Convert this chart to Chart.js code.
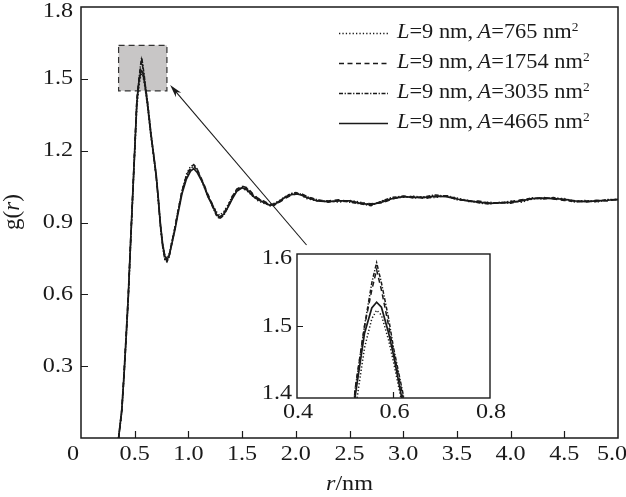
<!DOCTYPE html>
<html>
<head>
<meta charset="utf-8">
<script src="https://cdn.jsdelivr.net/npm/chart.js@4.4.0/dist/chart.umd.min.js"></script>
<style>
  html, body { margin: 0; padding: 0; background: #fff; }
  #wrap { position: relative; width: 626px; height: 497px; }
  #main { position: absolute; left: 0; top: 0; }
  #inset { position: absolute; left: 250px; top: 240px; }
</style>
</head>
<body>
<div id="wrap">
  <canvas id="main" width="626" height="497"></canvas>
  <canvas id="inset" width="260" height="190"></canvas>
</div>
<script>
/* ============================
   g(r) curves ‚Äî data
============================ */
const rVals = [0.35,0.38,0.40,0.42,0.44,0.46,0.48,0.50,0.52,0.54,
  0.555,0.565,0.575,0.59,0.60,0.62,0.65,0.68,0.70,0.72,
  0.74,0.76,0.78,0.80,0.82,0.84,0.875,0.90,0.94,0.98,
  1.02,1.05,1.08,1.11,1.14,1.18,1.23,1.26,1.29,1.33,
  1.37,1.41,1.45,1.50,1.55,1.60,1.65,1.70,1.76,1.80,
  1.85,1.90,1.95,2.00,2.05,2.10,2.20,2.30,2.40,2.50,
  2.60,2.70,2.80,2.90,3.00,3.10,3.20,3.30,3.40,3.50,
  3.60,3.70,3.80,3.90,4.00,4.10,4.20,4.30,4.40,4.50,
  4.60,4.70,4.80,4.90,5.00];

const g765 = [0.00,0.11,0.26,0.42,0.58,0.79,0.99,1.19,1.38,1.47,
  1.51,1.522,1.515,1.48,1.45,1.385,1.265,1.16,1.095,0.995,
  0.89,0.81,0.765,0.75,0.765,0.81,0.88,0.94,1.03,1.10,
  1.135,1.14,1.125,1.09,1.055,1.01,0.97,0.945,0.93,0.945,
  0.975,1.01,1.035,1.045,1.03,1.01,0.99,0.98,0.975,0.98,
  0.992,1.008,1.02,1.024,1.015,1.0,0.99,0.99,0.985,0.992,
  0.985,0.974,0.988,1.003,1.005,1.01,1.003,1.005,1.012,1.002,
  0.993,0.985,0.985,0.98,0.99,0.985,0.998,1.003,1.0,1.0,
  0.988,0.992,0.985,0.995,0.993];

const g1754 = [0.00,0.12,0.27,0.43,0.60,0.81,1.01,1.21,1.41,1.50,
  1.55,1.578,1.55,1.50,1.465,1.40,1.275,1.165,1.095,0.995,
  0.885,0.805,0.75,0.74,0.76,0.805,0.88,0.94,1.03,1.095,
  1.13,1.142,1.125,1.095,1.065,1.02,0.97,0.94,0.92,0.94,
  0.97,1.01,1.04,1.052,1.045,1.02,1.0,0.99,0.975,0.978,
  0.985,1.0,1.012,1.018,1.02,1.01,0.993,0.99,0.995,0.988,
  0.982,0.978,0.982,0.998,1.01,1.008,1.0,1.008,1.012,1.0,
  0.988,0.99,0.982,0.98,0.987,0.995,0.998,1.005,0.998,0.992,
  0.99,0.985,0.993,0.99,0.998];

const g3035 = [0.00,0.11,0.25,0.41,0.58,0.79,1.00,1.20,1.41,1.50,
  1.56,1.588,1.56,1.51,1.47,1.405,1.28,1.17,1.09,0.99,
  0.88,0.80,0.745,0.735,0.755,0.80,0.875,0.94,1.03,1.09,
  1.125,1.135,1.12,1.09,1.06,1.015,0.96,0.93,0.915,0.93,
  0.965,1.005,1.035,1.05,1.04,1.015,1.0,0.985,0.97,0.972,
  0.988,1.005,1.02,1.025,1.018,1.008,0.995,0.985,0.992,0.985,
  0.978,0.97,0.99,1.005,1.01,1.002,1.008,1.015,1.01,0.995,
  0.992,0.982,0.977,0.985,0.98,0.992,1.003,0.998,1.004,0.995,
  0.985,0.99,0.988,0.996,0.995];

const g4665 = [0.00,0.12,0.26,0.42,0.59,0.80,1.00,1.20,1.40,1.49,
  1.525,1.533,1.526,1.49,1.46,1.39,1.27,1.17,1.10,1.00,
  0.89,0.81,0.76,0.745,0.76,0.80,0.87,0.93,1.02,1.08,
  1.115,1.125,1.11,1.085,1.06,1.01,0.965,0.935,0.922,0.935,
  0.965,1.00,1.03,1.045,1.035,1.01,0.995,0.985,0.972,0.975,
  0.99,1.005,1.015,1.02,1.015,1.005,0.99,0.987,0.99,0.99,
  0.98,0.975,0.985,1.0,1.008,1.005,1.005,1.01,1.008,0.998,
  0.99,0.985,0.98,0.982,0.984,0.99,1.0,1.002,1.0,0.997,
  0.99,0.987,0.99,0.993,0.997];

const areas = ['765', '1754', '3035', '4665'];
const seriesData = [g765, g1754, g3035, g4665];

// main axes ticks
const xTicks = [0, 0.5, 1.0, 1.5, 2.0, 2.5, 3.0, 3.5, 4.0, 4.5, 5.0];
const xTickLabels = ['0', '0.5', '1.0', '1.5', '2.0', '2.5', '3.0', '3.5', '4.0', '4.5', '5.0'];
const yTicks = [0.3, 0.6, 0.9, 1.2, 1.5, 1.8];
const yTickLabels = ['0.3', '0.6', '0.9', '1.2', '1.5', '1.8'];

// inset ticks
const insetXTicks = [0.4, 0.6, 0.8];
const insetXLabels = ['0.4', '0.6', '0.8'];
const insetYTicks = [1.4, 1.5, 1.6];
const insetYLabels = ['1.4', '1.5', '1.6'];

// zoom box + arrow (data coords)
const zoomBox = { x0: 0.35, x1: 0.80, y0: 1.45, y1: 1.64 };
const arrowFrom = { x: 2.10, y: 0.806 };
const arrowTo = { x: 0.83, y: 1.474 };


/* ---------- Styles ---------- */
const INK = '#1a1a1a';
const SERIF = "'Liberation Serif', 'Times New Roman', serif";
const SX = 1.15; // the reference type is a bit wide

const lineStyles = [
  { dash: [1.3, 2.1], width: 1.5 },          // dotted
  { dash: [5, 3.5], width: 1.5 },            // dashed
  { dash: [4, 1.6, 1.3, 1.6], width: 1.5 },  // dash-dot
  { dash: [], width: 1.7 }                   // solid
];

function makeDatasets() {
  return seriesData.map((g, i) => ({
    label: 'A=' + areas[i],
    data: rVals.map((r, k) => ({ x: r, y: g[k] })),
    borderColor: INK,
    borderWidth: lineStyles[i].width,
    borderDash: lineStyles[i].dash,
    pointRadius: 0,
    tension: 0,
    fill: false
  }));
}

/* text with mixed italic / superscript pieces */
function richText(ctx, parts, x, y, size, align, rot, sx) {
  ctx.save();
  ctx.translate(x, y);
  if (rot) ctx.rotate(rot);
  ctx.scale(sx === undefined ? SX : sx, 1);
  ctx.fillStyle = INK;
  ctx.textBaseline = 'middle';
  ctx.textAlign = 'left';
  const fontOf = p => (p.i ? 'italic ' : '') + (p.sup ? size * 0.6 : size) + 'px ' + SERIF;
  let total = 0;
  parts.forEach(p => { ctx.font = fontOf(p); total += ctx.measureText(p.t).width; });
  let cx = align === 'center' ? -total / 2 : align === 'right' ? -total : 0;
  parts.forEach(p => {
    ctx.font = fontOf(p);
    ctx.fillText(p.t, cx, p.sup ? -size * 0.25 : 0);
    cx += ctx.measureText(p.t).width;
  });
  ctx.restore();
}


/* ======================================================
                MAIN CHART
====================================================== */
const mainDecor = {
  id: 'mainDecor',
  beforeDatasetsDraw(chart) {
    const { ctx, scales: { x, y } } = chart;
    const bx0 = x.getPixelForValue(zoomBox.x0), bx1 = x.getPixelForValue(zoomBox.x1);
    const by0 = y.getPixelForValue(zoomBox.y1), by1 = y.getPixelForValue(zoomBox.y0);
    ctx.save();
    ctx.fillStyle = '#c8c6c6';
    ctx.fillRect(bx0, by0, bx1 - bx0, by1 - by0);
    ctx.setLineDash([6, 4]);
    ctx.strokeStyle = '#333';
    ctx.lineWidth = 1.2;
    ctx.strokeRect(bx0, by0, bx1 - bx0, by1 - by0);
    ctx.restore();
  },
  afterDraw(chart) {
    const { ctx, chartArea: a, scales: { x, y } } = chart;
    ctx.save();
    ctx.strokeStyle = INK;
    ctx.lineWidth = 1.5;
    ctx.strokeRect(a.left, a.top, a.right - a.left, a.bottom - a.top);

    // inward tick marks
    ctx.lineWidth = 1.2;
    ctx.beginPath();
    xTicks.forEach(v => {
      if (v <= 0 || v >= 5) return;
      const px = Math.round(x.getPixelForValue(v)) + 0.5;
      ctx.moveTo(px, a.bottom); ctx.lineTo(px, a.bottom - 7);
    });
    yTicks.forEach(v => {
      if (v >= 1.8) return;
      const py = Math.round(y.getPixelForValue(v)) + 0.5;
      ctx.moveTo(a.left, py); ctx.lineTo(a.left + 7, py);
    });
    ctx.stroke();
    ctx.restore();

    // tick labels (ends nudged inside the canvas like the original)
    xTicks.forEach((v, i) => {
      let px = x.getPixelForValue(v);
      if (v === 0) px -= 8;
      if (v === 5) px -= 6;
      richText(ctx, [{ t: xTickLabels[i] }], px, a.bottom + 16, 21, 'center');
    });
    yTicks.forEach((v, i) => {
      const py = Math.max(y.getPixelForValue(v), a.top + 4);
      richText(ctx, [{ t: yTickLabels[i] }], a.left - 8, py, 21, 'right');
    });

    // axis titles
    richText(ctx, [{ t: 'r', i: true }, { t: '/nm' }], (a.left + a.right) / 2, a.bottom + 46, 21, 'center');
    richText(ctx, [{ t: 'g' }, { t: '(' }, { t: 'r', i: true }, { t: ')' }], 13, 212, 23, 'center', -Math.PI / 2, 1);

    // legend
    areas.forEach((ar, i) => {
      const ly = 33 + i * 30;
      ctx.save();
      ctx.strokeStyle = INK;
      ctx.lineWidth = lineStyles[i].width;
      ctx.setLineDash(lineStyles[i].dash);
      ctx.beginPath();
      ctx.moveTo(339, ly + 0.5); ctx.lineTo(388, ly + 0.5);
      ctx.stroke();
      ctx.restore();
      richText(ctx, [
        { t: 'L', i: true }, { t: '=9 nm,\u2009' }, { t: 'A', i: true },
        { t: '=' + ar + ' nm' }, { t: '2', sup: true }
      ], 397, ly, 20, 'left', 0, 1.12);
    });

    // arrow to the zoom box
    const fx = x.getPixelForValue(arrowFrom.x), fy = y.getPixelForValue(arrowFrom.y);
    const tx = x.getPixelForValue(arrowTo.x), ty = y.getPixelForValue(arrowTo.y);
    const ang = Math.atan2(ty - fy, tx - fx);
    ctx.save();
    ctx.strokeStyle = INK;
    ctx.fillStyle = INK;
    ctx.lineWidth = 1.1;
    ctx.beginPath();
    ctx.moveTo(fx, fy); ctx.lineTo(tx - 8 * Math.cos(ang), ty - 8 * Math.sin(ang));
    ctx.stroke();
    ctx.beginPath();
    ctx.moveTo(tx, ty);
    ctx.lineTo(tx - 13 * Math.cos(ang) + 3.5 * Math.sin(ang), ty - 13 * Math.sin(ang) - 3.5 * Math.cos(ang));
    ctx.lineTo(tx - 9 * Math.cos(ang), ty - 9 * Math.sin(ang));
    ctx.lineTo(tx - 13 * Math.cos(ang) - 3.5 * Math.sin(ang), ty - 13 * Math.sin(ang) + 3.5 * Math.cos(ang));
    ctx.closePath();
    ctx.fill();
    ctx.restore();
  }
};

new Chart(document.getElementById('main'), {
  type: 'line',
  data: { datasets: makeDatasets() },
  options: {
    responsive: false,
    animation: false,
    devicePixelRatio: 1,
    layout: { padding: { left: 81, right: 8, top: 7, bottom: 59 } },
    plugins: { legend: { display: false }, tooltip: { enabled: false } },
    scales: {
      x: { type: 'linear', min: 0, max: 5, display: false },
      y: { type: 'linear', min: 0, max: 1.8, display: false }
    }
  },
  plugins: [mainDecor]
});


/* ======================================================
                INSET (peak zoom)
====================================================== */
const insetDecor = {
  id: 'insetDecor',
  beforeDatasetsDraw(chart) {
    const { ctx, chartArea: a } = chart;
    ctx.save();
    ctx.fillStyle = '#fff';
    ctx.fillRect(a.left, a.top, a.right - a.left, a.bottom - a.top);
    ctx.restore();
  },
  afterDraw(chart) {
    const { ctx, chartArea: a, scales: { x, y } } = chart;
    ctx.save();
    ctx.strokeStyle = INK;
    ctx.lineWidth = 1.4;
    ctx.strokeRect(a.left, a.top, a.right - a.left, a.bottom - a.top);
    ctx.lineWidth = 1.2;
    ctx.beginPath();
    const mx = Math.round(x.getPixelForValue(0.6)) + 0.5;
    ctx.moveTo(mx, a.bottom); ctx.lineTo(mx, a.bottom - 6);
    const my = Math.round(y.getPixelForValue(1.5)) + 0.5;
    ctx.moveTo(a.left, my); ctx.lineTo(a.left + 6, my);
    ctx.stroke();
    ctx.restore();

    insetXTicks.forEach((v, i) => {
      richText(ctx, [{ t: insetXLabels[i] }], x.getPixelForValue(v) + 1, a.bottom + 14, 21, 'center');
    });
    insetYTicks.forEach((v, i) => {
      const py = Math.min(Math.max(y.getPixelForValue(v), a.top + 4), a.bottom - 5);
      richText(ctx, [{ t: insetYLabels[i] }], a.left - 5, py, 21, 'right');
    });
  }
};

new Chart(document.getElementById('inset'), {
  type: 'line',
  data: { datasets: makeDatasets() },
  options: {
    responsive: false,
    animation: false,
    devicePixelRatio: 1,
    layout: { padding: { left: 47, right: 20, top: 14, bottom: 32 } },
    plugins: { legend: { display: false }, tooltip: { enabled: false } },
    scales: {
      x: { type: 'linear', min: 0.4, max: 0.8, display: false },
      y: { type: 'linear', min: 1.4, max: 1.6, display: false }
    }
  },
  plugins: [insetDecor]
});
</script>
</body>
</html>
